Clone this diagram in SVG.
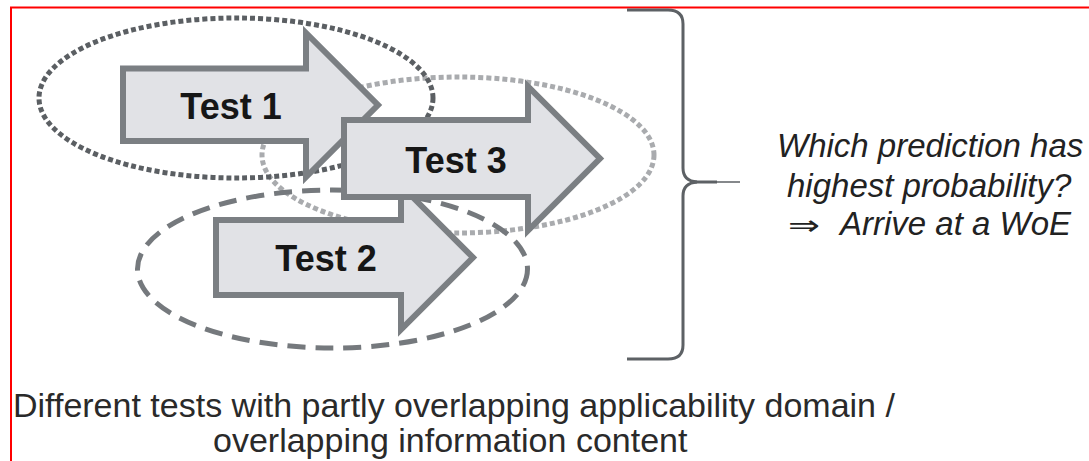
<svg xmlns="http://www.w3.org/2000/svg" width="1089" height="461" viewBox="0 0 1089 461">
<style>
.arrow{fill:#e1e2e6;stroke:#7b7f83;stroke-width:6;stroke-linejoin:miter}
.lbl{font-family:"Liberation Sans",Arial,sans-serif;font-weight:bold;font-size:36px;fill:#161616;text-anchor:middle}
.q{font-family:"Liberation Sans",Arial,sans-serif;font-style:italic;font-size:33px;fill:#222}
.cap{font-family:"Liberation Sans",Arial,sans-serif;font-size:34px;fill:#2a2a2a}
.ell{fill:none;stroke-width:5}
</style>
<rect x="0" y="0" width="1089" height="461" fill="#fff"/>
<path d="M11 461 L11 7.5 L1089 7.5" fill="none" stroke="#f00" stroke-width="2"/>
<g id="domains">
<ellipse id="domain3" class="ell" cx="458" cy="155" rx="196" ry="78" stroke="#a9abae" stroke-dasharray="5 3"/>
<ellipse id="domain1" class="ell" cx="236" cy="98" rx="197" ry="80" stroke="#5b5f63" stroke-dasharray="5 3"/>
<ellipse id="domain2" class="ell" cx="332.5" cy="269" rx="195" ry="79" stroke="#75797d" stroke-dasharray="18 10"/>
</g>
<g id="test1">
<path class="arrow" d="M123 68.5 L306 68.5 L306 33 L378 105 L306 177 L306 141 L123 141 Z"/>
<text class="lbl" x="231" y="119">Test 1</text>
</g>
<g id="test2">
<path class="arrow" d="M216 220 L401 220 L401 185.5 L473 257.5 L401 329.5 L401 295 L216 295 Z"/>
<text class="lbl" x="326" y="271">Test 2</text>
</g>
<g id="test3">
<path class="arrow" d="M344 120 L528 120 L528 86.5 L600 158.5 L528 230.5 L528 197 L344 197 Z"/>
<text class="lbl" x="456" y="173">Test 3</text>
</g>
<g id="connectors">
<path id="brace" d="M627 10 L668 10 Q683 10 683 24 L683 168 Q683 181 697 182 Q683 183 683 196 L683 345 Q683 359 668 359 L627 359" fill="none" stroke="#5d6165" stroke-width="3"/>
<path d="M690 182 L717 182" stroke="#5d6165" stroke-width="3"/>
<path d="M715 182 L740 182" stroke="#5d6165" stroke-width="1.5"/>
</g>
<g id="question">
<text class="q" x="777" y="157">Which prediction has</text>
<text class="q" x="787" y="197">highest probability?</text>
<text x="788" y="235" font-family="'DejaVu Sans',sans-serif" font-size="28" fill="#222" textLength="32" lengthAdjust="spacingAndGlyphs">⇒</text>
<text class="q" x="840" y="235">Arrive at a WoE</text>
</g>
<g id="caption">
<text class="cap" x="13" y="417">Different tests with partly overlapping applicability domain /</text>
<text class="cap" x="213" y="452">overlapping information content</text>
</g>
</svg>
